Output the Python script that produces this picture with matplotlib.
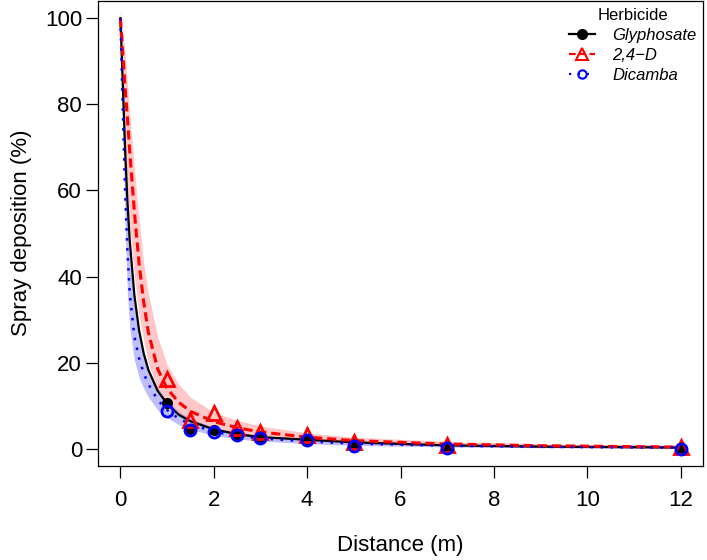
import matplotlib
matplotlib.use("Agg")
import matplotlib.pyplot as plt
from matplotlib.lines import Line2D

plt.rcParams["font.family"] = ["Liberation Sans", "DejaVu Sans"]

# observed points
dist_pts = [1, 1.5, 2, 2.5, 3, 4, 5, 7, 12]
gly_pts = [10.6, 4.5, 4.4, 3.3, 2.7, 2.0, 1.0, 0.5, 0.2]
d24_pts = [16.2, 6.7, 8.3, 4.8, 4.0, 3.2, 1.6, 0.9, 0.4]
dic_pts = [8.8, 4.3, 4.0, 3.2, 2.5, 2.1, 0.7, 0.1, 0.0]

dist_fit = [0, 0.05, 0.1, 0.15, 0.2, 0.3, 0.4, 0.5, 0.6, 0.8, 1.0, 1.25, 1.5, 2, 2.5, 3, 4, 5, 7, 9, 12]
gly_fit = [100, 85, 69.7, 57.6, 48.3, 35.6, 27.5, 22.1, 18.3, 13.4, 10.5, 7.9, 6.4, 4.5, 3.4, 2.7, 2.1, 1.5, 0.8, 0.5, 0.3]
d24_fit = [100, 92, 84, 77, 69, 55, 43, 34, 27, 18.5, 14, 10.8, 8.7, 6.3, 4.9, 3.9, 2.7, 1.9, 1.1, 0.7, 0.4]
d24_hi = [102.5, 97, 92, 85, 78, 65, 53, 43, 36, 26, 19.5, 15, 12, 8.5, 6.6, 5.3, 3.7, 2.7, 1.7, 1.2, 0.8]
d24_lo = [97.5, 84, 71, 61, 52, 40, 31, 25, 20, 13.5, 10.5, 8.2, 6.6, 4.6, 3.5, 2.8, 1.9, 1.2, 0.6, 0.3, 0.1]
dic_fit = [100, 79, 60, 46, 36, 26, 21, 17.5, 15, 11.3, 9, 7, 5.7, 4.0, 3.0, 2.4, 1.7, 1.2, 0.7, 0.45, 0.25]
dic_hi = [100.5, 84, 68, 55, 44, 33, 27, 22, 18.5, 14, 11, 8.6, 7, 5, 3.8, 3.1, 2.2, 1.6, 1.0, 0.7, 0.45]
dic_lo = [99.5, 74, 52, 36, 28, 20.5, 16.5, 14, 12, 9, 7.2, 5.6, 4.5, 3.1, 2.3, 1.8, 1.2, 0.8, 0.4, 0.25, 0.1]

fig = plt.figure(figsize=(7.07, 5.6), dpi=100)
ax = fig.add_axes([98 / 707, 1 - 466 / 560, 605 / 707, 465 / 560])

# bands
ax.fill_between(dist_fit, d24_lo, d24_hi, color="red", alpha=0.22, lw=0)
ax.fill_between(dist_fit, dic_lo, dic_hi, color="blue", alpha=0.25, lw=0)

# curves
ax.plot(dist_fit, gly_fit, color="black", lw=1.6)
ax.plot(dist_fit, d24_fit, color="red", lw=2.2, dashes=(3, 1.6))
ax.plot(dist_fit, dic_fit, color="blue", lw=1.8, linestyle=(0, (1, 3)))

# points
ax.plot(dist_pts, gly_pts, "o", color="black", ms=7, ls="none")
ax.plot(dist_pts, d24_pts, "^", mfc="none", mec="red", mew=2, ms=10, ls="none")
ax.plot(dist_pts, dic_pts, "o", mfc="none", mec="blue", mew=2, ms=8, ls="none")

ax.set_xlim(-0.48, 12.48)
ax.set_ylim(-4, 104)
ax.set_xticks(range(0, 13, 2))
ax.set_yticks(range(0, 101, 20))
ax.tick_params(axis="both", direction="out", length=8.5, width=0.9, labelsize=16)
ax.tick_params(axis="x", pad=9)
ax.tick_params(axis="y", pad=3)
for sp in ax.spines.values():
    sp.set_linewidth(0.9)

fig.text(400 / 707, 1 - 545 / 560, "Distance (m)", ha="center", va="center", fontsize=16)
fig.text(22 / 707, 1 - 233 / 560, "Spray deposition (%)", ha="center", va="center",
         rotation=90, fontsize=16)

handles = [
    Line2D([], [], color="black", lw=1.6, marker="o", ms=7),
    Line2D([], [], color="red", lw=1.6, dashes=(3, 1.6), marker="^", mfc="none", mec="red", mew=1.5, ms=8),
    Line2D([], [], color="blue", lw=1.6, linestyle=(0, (1, 3)), marker="o", mfc="none", mec="blue", mew=1.5, ms=6),
]
leg = ax.legend(handles, ["Glyphosate", "2,4\u2212D", "Dicamba"], title="Herbicide",
                loc="upper right", bbox_to_anchor=(1.0, 1.0), frameon=False,
                prop={"style": "italic", "size": 12}, title_fontsize=12,
                handlelength=1.6, handletextpad=1.0, labelspacing=0.3, borderaxespad=0.0)

fig.savefig("out.png", dpi=100)
